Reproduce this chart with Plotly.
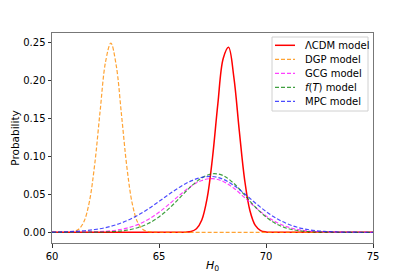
import plotly.graph_objects as go

# ---- data ----
lcdm_x = [60.0, 66.0, 66.25, 66.5, 66.75, 67.0, 67.25, 67.5, 67.75, 68.0, 68.25, 68.5,
          68.75, 69.0, 69.25, 69.5, 69.75, 70.0, 70.25, 70.5, 75.0]
lcdm_y = [0.0, 0.00002, 0.00018, 0.0010, 0.0046, 0.0161, 0.0448, 0.0981, 0.1689, 0.2286,
          0.2433, 0.2036, 0.1341, 0.0694, 0.0283, 0.0090, 0.0023, 0.0005, 0.00007, 0.00001, 0.0]

dgp_x = [60.0, 60.5, 60.75, 61.0, 61.25, 61.5, 61.75, 62.0, 62.25, 62.5, 62.75, 63.0,
         63.25, 63.5, 63.75, 64.0, 64.25, 64.5, 64.75, 65.0, 75.0]
dgp_y = [0.0, 0.00002, 0.00016, 0.0009, 0.0041, 0.0145, 0.0407, 0.0905, 0.1598, 0.2238,
         0.2490, 0.2197, 0.1539, 0.0856, 0.0378, 0.0132, 0.0037, 0.0008, 0.00014, 0.00002, 0.0]

broad_x = [60.0, 60.5, 61.0, 61.5, 62.0, 62.5, 63.0, 63.5, 64.0, 64.5, 65.0, 65.5, 66.0,
           66.5, 67.0, 67.5, 68.0, 68.5, 69.0, 69.5, 70.0, 70.5, 71.0, 71.5, 72.0, 72.5,
           73.0, 73.5, 74.0, 74.5, 75.0]
gcg_y = [0.00001, 0.00003, 0.00008, 0.00021, 0.00054, 0.00127, 0.00274, 0.00546, 0.0100,
         0.0169, 0.0263, 0.0377, 0.0498, 0.0607, 0.0682, 0.0706, 0.0669, 0.0579, 0.0457,
         0.0329, 0.0216, 0.0129, 0.0071, 0.0035, 0.0016, 0.00066, 0.00025, 0.00009,
         0.00003, 0.00001, 0.0]
ft_y = [0.0, 0.0, 0.00002, 0.00005, 0.00016, 0.00046, 0.00119, 0.0028, 0.0060, 0.0115,
        0.0202, 0.0321, 0.0462, 0.0604, 0.0716, 0.0770, 0.0746, 0.0642, 0.0491, 0.0333,
        0.0201, 0.0107, 0.0051, 0.0022, 0.0008, 0.00027, 0.00008, 0.00002, 0.0, 0.0, 0.0]
mpc_y = [0.00026, 0.00054, 0.00107, 0.00202, 0.00362, 0.00615, 0.00995, 0.01527, 0.02227,
         0.03083, 0.04054, 0.05062, 0.06003, 0.0676, 0.0723, 0.0734, 0.0697, 0.0616,
         0.0506, 0.0386, 0.0274, 0.0181, 0.0111, 0.0063, 0.00334, 0.00164, 0.00075,
         0.00032, 0.00013, 0.00005, 0.00002]

names = ["ΛCDM model", "DGP model", "GCG model", "<i>f</i>(<i>T</i>) model", "MPC model"]
x_ticks = [60, 65, 70, 75]
y_ticks = [0.0, 0.05, 0.10, 0.15, 0.20, 0.25]

# ---- styles ----
styles = [
    dict(color="red", width=1.5, dash="solid"),
    dict(color="rgba(255,140,0,0.8)", width=1.2, dash="4px,2px"),
    dict(color="rgba(255,0,255,0.75)", width=1.2, dash="4px,2px"),
    dict(color="rgba(0,128,0,0.75)", width=1.2, dash="4px,2px"),
    dict(color="rgba(30,30,255,0.8)", width=1.2, dash="4px,2px"),
]
series = [(lcdm_x, lcdm_y), (dgp_x, dgp_y), (broad_x, gcg_y), (broad_x, ft_y), (broad_x, mpc_y)]

fig = go.Figure()
for (xs, ys), nm, st in zip(series, names, styles):
    fig.add_trace(go.Scatter(x=xs, y=ys, name=nm, mode="lines", showlegend=False,
                             line=dict(shape="spline", **st)))

# page body has an 8px margin; plot area in window pixels: x 52..373, y 33..243
W, H = 407, 269
ML, MT = 44, 25
PW, PH = 321, 210
MR = W - ML - PW
MB = H - MT - PH


def px(xw):  # window px -> paper x
    return (xw - 52) / PW


def py(yw):  # window px -> paper y
    return (243 - yw) / PH


# ---- hand-drawn legend (matplotlib-like, compact) ----
fig.add_shape(type="rect", xref="paper", yref="paper",
              x0=px(272), x1=px(368), y0=py(111), y1=py(37),
              line=dict(color="#d0d0d0", width=1), fillcolor="rgba(255,255,255,0.85)",
              layer="above")
row_y = [45.3, 59.3, 73.3, 87.3, 101.3]
for nm, st, ry in zip(names, styles, row_y):
    fig.add_shape(type="line", xref="paper", yref="paper",
                  x0=px(275), x1=px(295), y0=py(ry), y1=py(ry),
                  line=dict(color=st["color"], width=st["width"], dash=st["dash"]),
                  layer="above")
    fig.add_annotation(x=px(302.5), y=py(ry), xref="paper", yref="paper", text=nm,
                       showarrow=False, xanchor="left", yanchor="middle",
                       font=dict(family="DejaVu Sans", size=10, color="black"))

axis_common = dict(showline=True, linecolor="#777", linewidth=1, mirror=True,
                   ticks="outside", ticklen=3.5, tickcolor="#333", tickwidth=1,
                   showgrid=False, zeroline=False, automargin=False,
                   tickfont=dict(family="DejaVu Sans", size=10, color="black"))

fig.update_layout(
    width=W, height=H,
    margin=dict(l=ML, r=MR, t=MT, b=MB),
    paper_bgcolor="white", plot_bgcolor="white",
    font=dict(family="DejaVu Sans", size=10, color="black"),
    xaxis=dict(range=[60, 75], tickvals=x_ticks, ticktext=[str(v) for v in x_ticks],
               title=dict(text="<i>H</i><sub>0</sub>", standoff=0,
                          font=dict(family="DejaVu Sans", size=11)),
               **axis_common),
    yaxis=dict(range=[-0.0141, 0.2622], tickvals=y_ticks,
               ticktext=[f"{v:.2f}" for v in y_ticks],
               title=dict(text="Probability", standoff=1,
                          font=dict(family="DejaVu Sans", size=10.5)),
               **axis_common),
    showlegend=False,
)

fig.write_html("out.html")
